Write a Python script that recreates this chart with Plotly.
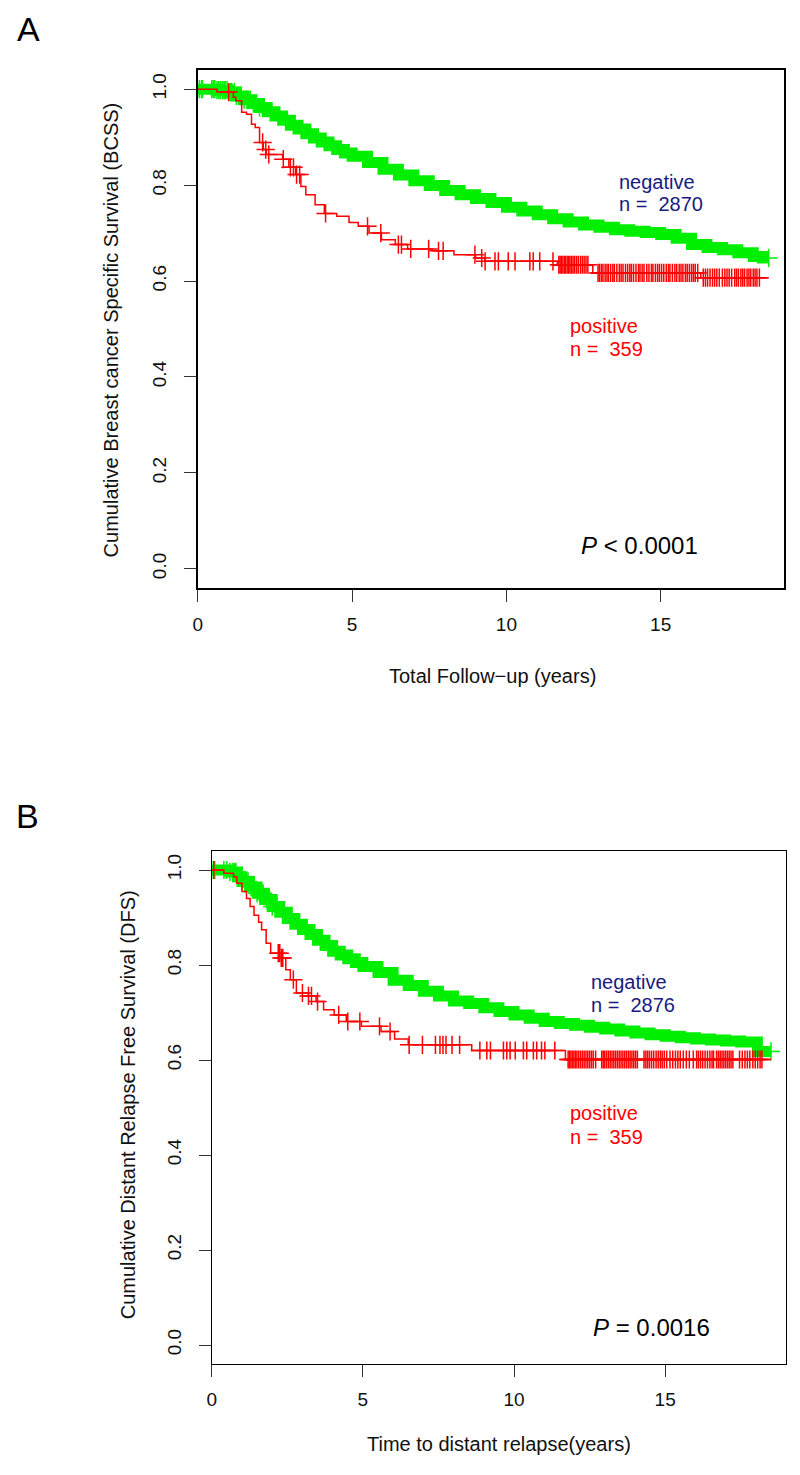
import plotly.graph_objects as go

# Panel A: breast cancer specific survival (years, KM estimate)
neg_a_t = [0, 0.6, 1.0, 1.25, 1.5, 1.75, 2.0, 2.25, 2.5, 2.75, 3.0, 3.25, 3.5, 3.75, 4.0,
           4.25, 4.5, 4.75, 5.0, 5.5, 6.0, 6.5, 7.0, 7.5, 8.0, 8.5, 9.0, 9.5, 10.0, 10.5,
           11.0, 11.5, 12.0, 12.5, 13.0, 13.5, 14.0, 14.5, 15.0, 15.5, 16.0, 16.5, 17.0,
           17.5, 18.0, 18.3, 18.5]
neg_a_s = [1.0, 0.998, 0.994, 0.986, 0.978, 0.970, 0.962, 0.953, 0.944, 0.935, 0.925, 0.917,
           0.907, 0.898, 0.890, 0.882, 0.874, 0.867, 0.860, 0.847, 0.833, 0.821, 0.809, 0.799,
           0.789, 0.780, 0.772, 0.764, 0.754, 0.746, 0.738, 0.730, 0.723, 0.717, 0.712, 0.707,
           0.704, 0.701, 0.697, 0.689, 0.676, 0.670, 0.665, 0.659, 0.651, 0.648, 0.648]
neg_a_cens = [0.05, 0.12, 0.15, 0.45, 0.5, 0.55, 0.62, 0.68, 0.73, 0.8, 0.85, 0.89, 0.95,
              1.0, 1.05, 1.1, 1.18, 1.25, 1.32, 1.4, 1.5, 1.6, 1.7, 1.8, 1.9, 2.0, 18.5]

pos_a_t = [0, 0.62, 1.15, 1.23, 1.42, 1.58, 1.74, 1.86, 2.0, 2.12, 2.22, 2.75, 2.95, 3.17,
           3.34, 3.5, 3.8, 4.1, 4.5, 4.9, 5.2, 5.55, 5.95, 6.4, 6.8, 7.6, 8.3, 9.0, 9.3,
           11.65, 12.8, 16.3, 18.5]
pos_a_s = [1.0, 0.994, 0.983, 0.976, 0.952, 0.948, 0.927, 0.92, 0.889, 0.874, 0.864, 0.854,
           0.837, 0.822, 0.797, 0.78, 0.759, 0.741, 0.735, 0.722, 0.714, 0.70, 0.686, 0.676,
           0.667, 0.663, 0.655, 0.648, 0.641, 0.634, 0.617, 0.607, 0.607]
pos_a_cens = [1.0, 2.1, 2.2, 2.3, 2.77, 3.0, 3.1, 3.2, 3.3, 4.14, 5.5, 5.93, 6.5, 6.6, 6.9,
              7.48, 7.8, 7.95, 8.98, 9.2, 9.31, 9.63, 9.74, 10.06, 10.28, 10.76, 10.87, 11.08,
              11.51, 11.7, 11.74, 11.78, 11.83, 11.88, 11.92, 11.97, 12.02, 12.06, 12.11,
              12.16, 12.21, 12.27, 12.33, 12.4, 12.46, 12.52, 12.58, 12.64, 12.97, 13.02,
              13.08, 13.13, 13.2, 13.26, 13.31, 13.38, 13.45, 13.5, 13.58, 13.66, 13.72,
              13.78, 13.86, 13.93, 14.0, 14.05, 14.12, 14.2, 14.28, 14.33, 14.4, 14.46,
              14.55, 14.62, 14.7, 14.75, 14.83, 14.9, 14.96, 15.03, 15.1, 15.18, 15.25,
              15.3, 15.38, 15.46, 15.52, 15.6, 15.66, 15.72, 15.8, 15.86, 15.93, 16.0,
              16.06, 16.12, 16.2, 16.38, 16.45, 16.52, 16.6, 16.68, 16.75, 16.82, 16.9,
              17.0, 17.08, 17.15, 17.22, 17.3, 17.4, 17.46, 17.52, 17.6, 17.66, 17.72,
              17.8, 17.86, 17.92, 18.0, 18.06, 18.12, 18.2]

# Panel B: distant relapse free survival
neg_b_t = [0, 0.6, 0.85, 1.0, 1.25, 1.5, 1.75, 2.0, 2.25, 2.5, 2.75, 3.0, 3.25, 3.5, 3.75,
           4.0, 4.25, 4.5, 4.75, 5.0, 5.5, 6.0, 6.5, 7.0, 7.5, 8.0, 8.5, 9.0, 9.5, 10.0,
           10.5, 11.0, 11.5, 12.0, 12.5, 13.0, 13.5, 14.0, 14.5, 15.0, 15.5, 16.0, 16.5,
           17.0, 17.5, 18.05, 18.5]
neg_b_s = [1.0, 0.996, 0.986, 0.976, 0.964, 0.951, 0.938, 0.923, 0.911, 0.898, 0.886, 0.875,
           0.864, 0.852, 0.841, 0.829, 0.821, 0.813, 0.805, 0.797, 0.784, 0.768, 0.757, 0.745,
           0.735, 0.724, 0.719, 0.710, 0.702, 0.695, 0.688, 0.681, 0.677, 0.673, 0.669, 0.665,
           0.661, 0.657, 0.653, 0.650, 0.647, 0.644, 0.642, 0.640, 0.638, 0.618, 0.618]
neg_b_cens = [0.05, 0.1, 0.4, 0.5, 0.6, 0.7, 0.75, 0.8, 0.9, 1.0, 1.1, 1.2, 1.3, 1.4, 1.5,
              1.6, 1.7, 1.8, 1.9, 2.0, 18.5]

pos_b_t = [0, 0.4, 0.72, 0.83, 1.0, 1.15, 1.27, 1.4, 1.55, 1.65, 1.8, 1.95, 2.3, 2.45, 2.6,
           2.8, 3.2, 3.45, 3.7, 4.05, 4.45, 4.95, 5.6, 6.05, 6.5, 8.6, 11.7, 18.5]
pos_b_s = [1.0, 0.993, 0.986, 0.972, 0.955, 0.94, 0.923, 0.905, 0.89, 0.874, 0.846, 0.825,
           0.815, 0.790, 0.769, 0.741, 0.735, 0.723, 0.706, 0.695, 0.681, 0.671, 0.660,
           0.644, 0.632, 0.620, 0.601, 0.601]
pos_b_cens = [0.07, 2.2, 2.25, 2.3, 2.35, 2.7, 3.0, 3.2, 3.3, 3.5, 4.2, 4.5, 4.9, 5.55, 5.9,
              6.53, 6.97, 7.4, 7.55, 7.65, 7.75, 7.95, 8.2, 8.87, 9.1, 9.22, 9.65, 9.76,
              9.87, 10.04, 10.31, 10.42, 10.64, 10.75, 10.91, 11.02, 11.35, 11.79, 11.83,
              11.88, 11.93, 11.98, 12.03, 12.08, 12.14, 12.2, 12.26, 12.32, 12.38, 12.44,
              12.5, 12.56, 12.62, 12.7, 12.9, 12.95, 13.0, 13.06, 13.12, 13.18, 13.24, 13.3,
              13.36, 13.42, 13.48, 13.54, 13.6, 13.66, 13.72, 13.78, 13.84, 13.9, 13.96,
              14.02, 14.08, 14.3, 14.36, 14.42, 14.48, 14.55, 14.62, 14.7, 14.77, 14.84,
              14.9, 14.97, 15.05, 15.16, 15.25, 15.34, 15.42, 15.5, 15.6, 15.7, 15.8, 15.93,
              16.04, 16.1, 16.17, 16.24, 16.32, 16.4, 16.48, 16.55, 16.6, 16.7, 16.76,
              16.82, 16.88, 16.94, 17.0, 17.06, 17.12, 17.18, 17.24, 17.46, 17.55, 17.64,
              17.72, 17.8, 17.9, 17.98, 18.06, 18.14, 18.2]

GREEN = "#00ee00"
RED = "#ff0000"
NAVY = "#1a1a80"
FONT = "Liberation Sans, Arial, sans-serif"


def surv_at(times, surv, t):
    # value of the KM step function at time t
    val = surv[0]
    for ti, si in zip(times, surv):
        if ti <= t:
            val = si
        else:
            break
    return val


fig = go.Figure()

panels = [
    ("x", "y", neg_a_t, neg_a_s, neg_a_cens, pos_a_t, pos_a_s, pos_a_cens),
    ("x2", "y2", neg_b_t, neg_b_s, neg_b_cens, pos_b_t, pos_b_s, pos_b_cens),
]
for xa, ya, nt, ns, nc, pt, ps, pc in panels:
    # dense censoring of the negative group renders as a thick band
    fig.add_trace(go.Scatter(x=nt, y=ns, mode="lines", line=dict(color=GREEN, width=11, shape="hv"),
                             xaxis=xa, yaxis=ya, showlegend=False, hoverinfo="skip"))
    fig.add_trace(go.Scatter(x=nc, y=[surv_at(nt, ns, t) for t in nc], mode="markers",
                             marker=dict(symbol="cross-thin", size=13, line=dict(color=GREEN, width=1.5)),
                             xaxis=xa, yaxis=ya, showlegend=False))
    fig.add_trace(go.Scatter(x=pt, y=ps, mode="lines", line=dict(color=RED, width=1.5, shape="hv"),
                             xaxis=xa, yaxis=ya, showlegend=False))
    fig.add_trace(go.Scatter(x=pc, y=[surv_at(pt, ps, t) for t in pc], mode="markers",
                             marker=dict(symbol="cross-thin", size=13, line=dict(color=RED, width=1.5)),
                             xaxis=xa, yaxis=ya, showlegend=False))

xcommon = dict(range=[0, 19], tick0=0, dtick=5, ticks="outside", ticklen=12, tickcolor="#333",
               tickwidth=1, showline=True, linecolor="black", mirror=True, showgrid=False,
               zeroline=False, tickfont=dict(size=19, color="#111", family=FONT),
               ticklabelstandoff=6)
ycommon = dict(range=[-0.04, 1.04], tick0=0, dtick=0.2, tickformat=".1f", tickangle=-90,
               ticks="outside", ticklen=12, tickcolor="#333", tickwidth=1, showline=True,
               linecolor="black", mirror=True, showgrid=False, zeroline=False,
               tickfont=dict(size=19, color="#111", family=FONT), ticklabelstandoff=10)

# the page body adds an 8px offset, so work in page pixels and shift back
OFF = 8
W, H = 800 - OFF, 1475 - OFF


def px(x):
    return (x - OFF) / W


def py(y):
    return 1 - (y - OFF) / H


fig.update_layout(
    width=W, height=H, autosize=False,
    margin=dict(l=0, r=0, t=0, b=0),
    paper_bgcolor="white", plot_bgcolor="white",
    font=dict(family=FONT, color="#111"),
    xaxis=dict(xcommon, domain=[px(194), px(784)], anchor="y", linewidth=2),
    yaxis=dict(ycommon, domain=[py(588), py(70)], anchor="x", linewidth=2),
    xaxis2=dict(xcommon, domain=[px(208), px(786)], anchor="y2", linewidth=1.3),
    yaxis2=dict(ycommon, domain=[py(1364), py(851)], anchor="x2", linewidth=1.3),
)


def note(text, x, y, size=20, color="#111", xanchor="center", angle=0, yanchor="middle"):
    fig.add_annotation(text=text, x=px(x), y=py(y), xref="paper", yref="paper",
                       showarrow=False, xanchor=xanchor, yanchor=yanchor, textangle=angle,
                       font=dict(size=size, color=color, family=FONT))


note("A", 10, 8, size=34, color="black", xanchor="left", yanchor="top")
note("B", 9, 795, size=34, color="black", xanchor="left", yanchor="top")

note("Total Follow\u2212up (years)", 491, 676)
note("Cumulative Breast cancer Specific Survival (BCSS)", 107, 330, angle=-90)
note("negative", 616, 182, color=NAVY, xanchor="left")
note("n = \u00a02870", 616, 204, color=NAVY, xanchor="left")
note("positive", 567, 326, color=RED, xanchor="left")
note("n = \u00a0359", 567, 349, color=RED, xanchor="left")
note("<i>P</i> &lt; 0.0001", 578, 545, size=24, color="black", xanchor="left")

note("Time to distant relapse(years)", 497, 1444)
note("Cumulative Distant Relapse Free Survival (DFS)", 124, 1105, angle=-90)
note("negative", 588, 982, color=NAVY, xanchor="left")
note("n = \u00a02876", 588, 1005, color=NAVY, xanchor="left")
note("positive", 567, 1113, color=RED, xanchor="left")
note("n = \u00a0359", 567, 1137, color=RED, xanchor="left")
note("<i>P</i> = 0.0016", 590, 1327, size=24, color="black", xanchor="left")

fig.write_html("out.html")
